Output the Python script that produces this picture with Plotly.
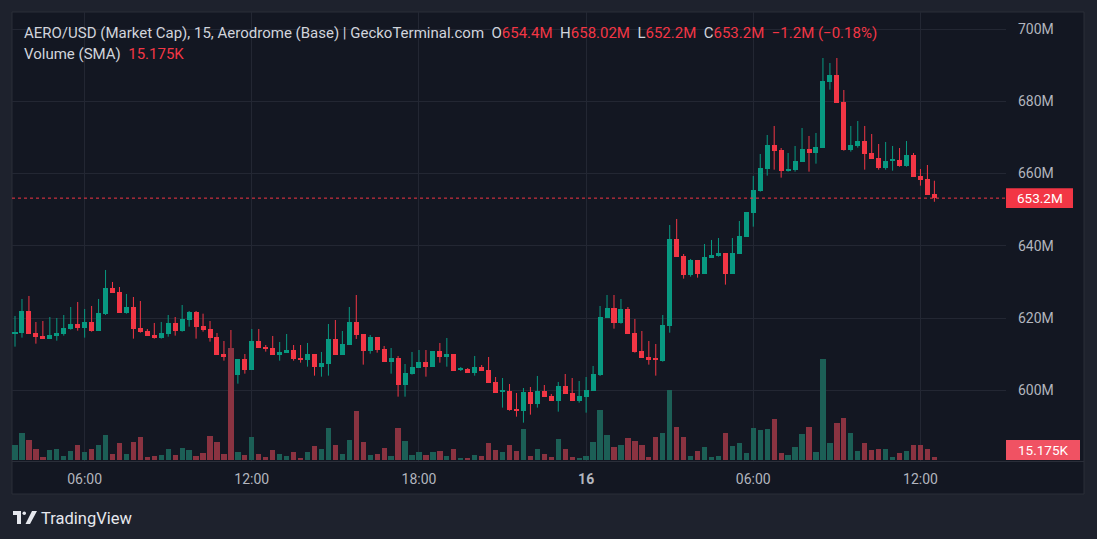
import plotly.graph_objects as go
import pandas as pd

# ---------------- data ----------------
start_time = "2024-05-15 03:30"
n_candles = 133

open_ = [
    615.76, 615.94, 621.94, 615.85, 615.02, 614.28, 615.11, 615.66, 617.05, 618.34,
    617.33, 618.90, 616.49, 621.11, 628.31, 627.21, 621.48, 623.05, 617.23, 616.49,
    615.29, 614.56, 615.66, 618.62, 616.49, 619.54, 621.67, 617.79, 616.96, 614.74,
    610.03, 609.48, 604.31, 608.65, 605.69, 613.63, 612.06, 611.69, 609.85, 610.40,
    611.14, 609.02, 608.46, 610.03, 606.52, 607.35, 614.19, 609.85, 612.62, 618.90,
    615.57, 610.95, 614.74, 611.42, 607.91, 608.92, 601.54, 604.58, 606.25, 607.82,
    606.43, 610.86, 609.29, 610.03, 605.69, 605.88, 604.86, 606.43, 605.60, 602.28,
    599.69, 599.78, 594.80, 594.33, 599.51, 596.27, 599.78, 598.40, 597.10, 601.17,
    599.23, 597.10, 598.21, 599.87, 604.21, 620.10, 622.77, 618.71, 622.50, 615.85,
    610.86, 609.20, 608.64, 608.18, 617.88, 641.89, 637.18, 632.01, 636.07, 632.28,
    636.71, 637.27, 638.01, 632.28, 637.82, 642.53, 649.18, 655.27, 661.37, 667.92,
    666.54, 660.81, 661.09, 663.31, 666.82, 665.80, 667.19, 685.47, 687.31, 679.84,
    666.63, 667.74, 669.03, 665.71, 664.32, 661.65, 663.58, 663.77, 662.20, 665.15,
    659.34, 658.51, 654.40]

close = [
    616.22, 621.94, 615.66, 614.83, 614.28, 615.29, 615.85, 617.23, 618.34, 617.23,
    618.90, 616.49, 621.39, 628.31, 627.02, 621.48, 623.05, 617.05, 616.22, 615.11,
    614.56, 615.85, 618.62, 616.49, 619.73, 621.67, 617.60, 616.77, 614.56, 609.85,
    609.29, 604.31, 608.65, 605.69, 613.63, 611.79, 611.51, 609.85, 610.59, 611.14,
    608.74, 608.46, 610.03, 606.52, 607.54, 614.19, 609.85, 612.80, 618.90, 615.39,
    610.95, 614.74, 611.23, 607.91, 608.92, 601.54, 604.77, 606.43, 607.82, 606.43,
    610.86, 609.29, 610.03, 605.41, 605.88, 604.86, 606.43, 605.41, 602.09, 599.32,
    599.87, 594.61, 594.33, 599.51, 596.27, 599.78, 598.21, 597.10, 601.17, 599.04,
    597.10, 598.40, 600.06, 604.49, 620.28, 622.77, 618.71, 622.50, 615.66, 610.68,
    609.02, 608.46, 608.46, 618.06, 641.89, 636.99, 632.01, 636.07, 632.28, 636.90,
    637.45, 638.01, 632.28, 638.01, 642.72, 649.36, 655.46, 661.55, 667.92, 666.35,
    660.81, 661.37, 663.49, 666.82, 665.80, 667.37, 685.65, 687.31, 679.65, 666.63,
    667.92, 669.03, 665.52, 664.14, 661.65, 663.49, 663.77, 662.20, 665.15, 659.15,
    658.32, 654.17, 653.20]

high = [
    620.56, 625.27, 626.10, 618.90, 619.17, 620.28, 620.00, 620.83, 623.05, 624.44,
    622.50, 623.33, 625.27, 633.30, 629.98, 628.59, 626.65, 625.82, 624.71, 616.96,
    618.62, 618.90, 620.83, 620.28, 623.60, 621.94, 621.94, 621.20, 619.17, 615.85,
    613.63, 616.68, 608.65, 610.03, 616.96, 616.96, 612.52, 615.02, 613.36, 615.57,
    612.52, 612.52, 613.08, 610.03, 610.59, 618.34, 619.45, 616.40, 623.05, 626.37,
    615.57, 615.29, 614.74, 612.25, 611.69, 609.48, 607.26, 610.59, 611.14, 611.14,
    610.86, 613.08, 614.46, 610.03, 606.43, 606.15, 609.48, 606.98, 609.20, 603.66,
    603.38, 601.72, 599.23, 600.61, 600.89, 603.94, 601.44, 598.95, 602.28, 604.49,
    603.38, 602.55, 603.66, 606.71, 623.33, 626.37, 626.37, 625.27, 623.05, 619.73,
    616.40, 613.63, 612.80, 620.83, 645.76, 647.43, 637.73, 636.35, 636.07, 640.50,
    641.61, 642.16, 638.01, 642.16, 646.87, 649.36, 659.34, 665.43, 670.69, 673.19,
    667.09, 665.71, 667.65, 672.63, 670.42, 671.25, 692.02, 690.64, 692.02, 683.16,
    673.19, 674.57, 673.19, 670.97, 668.20, 668.76, 667.65, 667.09, 669.03, 665.71,
    661.28, 662.38, 658.02]

low = [
    612.06, 614.56, 615.66, 612.89, 614.28, 614.28, 613.72, 615.11, 616.77, 616.49,
    614.56, 616.22, 616.49, 620.83, 627.02, 621.48, 621.20, 614.28, 615.94, 615.11,
    614.28, 614.28, 614.83, 615.11, 616.22, 617.60, 614.28, 616.22, 613.45, 609.85,
    608.18, 602.09, 601.81, 604.58, 605.69, 611.79, 610.68, 609.85, 608.18, 610.40,
    608.18, 607.63, 606.52, 604.03, 603.75, 604.03, 609.85, 609.85, 612.62, 614.19,
    607.08, 610.12, 610.40, 607.91, 604.58, 598.21, 598.21, 604.31, 606.25, 603.75,
    606.43, 607.63, 606.52, 605.41, 605.32, 604.86, 604.03, 605.41, 602.09, 599.32,
    595.17, 594.33, 592.67, 591.01, 593.23, 595.17, 598.21, 597.10, 594.06, 599.04,
    597.10, 596.55, 593.78, 599.87, 603.94, 620.10, 617.05, 618.43, 615.66, 610.40,
    609.02, 607.08, 604.03, 607.91, 615.94, 636.99, 630.90, 631.45, 631.17, 632.28,
    636.71, 636.99, 629.24, 632.28, 637.82, 642.53, 645.30, 655.00, 659.43, 661.09,
    658.88, 660.54, 660.54, 663.31, 660.54, 662.75, 667.19, 683.25, 679.65, 666.35,
    666.08, 667.19, 661.09, 664.14, 661.09, 661.09, 660.81, 661.92, 661.92, 659.15,
    656.66, 654.17, 652.20]

# volume in thousands
volume = [
    75, 135, 100, 55, 15, 50, 55, 20, 45, 75, 40, 55, 75, 125, 30, 85, 30, 90, 115, 15,
    20, 25, 55, 25, 60, 50, 20, 35, 120, 90, 30, 560, 40, 25, 115, 30, 15, 50, 30, 20,
    40, 10, 40, 70, 55, 160, 75,
    30, 100, 245, 90, 25, 30, 60, 20, 160, 95, 25, 40, 25, 40, 45, 20, 55, 10, 10, 25,
    20, 85, 50, 40, 75, 45, 155, 20, 55, 30, 15, 105, 55, 15, 10, 20, 90, 250, 125, 65,
    75, 110, 95, 75, 15,
    115, 135, 350, 165, 115, 20, 45, 65, 15, 20, 135, 70, 85, 35, 160, 150, 155, 205, 35,
    25, 65, 130, 165, 40, 505, 85, 185, 210, 135, 45, 85, 50, 55, 55, 15, 35, 45, 75, 75,
    55, 15.175]

tick_times = ["2024-05-15 06:00", "2024-05-15 12:00", "2024-05-15 18:00",
              "2024-05-16 00:00", "2024-05-16 06:00", "2024-05-16 12:00"]
tick_labels = ["06:00", "12:00", "18:00", "<b>16</b>", "06:00", "12:00"]
price_ticks = [600, 620, 640, 660, 680, 700]
price_labels = ["600M", "620M", "640M", "660M", "680M", "700M"]

header_ohlc = {"O": "654.4M", "H": "658.02M", "L": "652.2M", "C": "653.2M"}
header_change = "−1.2M (−0.18%)"
volume_label = "15.175K"
last_price_label = "653.2M"

# ---------------- styling ----------------
W, H = 1097, 539
PL, PR, PT, PB = 12, 1006, 12, 461   # plot area in pixels
UP, DN = "#089981", "#f23645"
VUP, VDN = "#1c5f56", "#8a3341"
BG_OUT = "#1e222d"
BG = "#131722"
GRID = "#232733"
TXT = "#b2b5be"
FONT = "Roboto, Liberation Sans, sans-serif"


def fx(px):
    return (px - PL) / (PR - PL)


def fy(py):
    return (PB - py) / (PB - PT)


times = pd.date_range(start_time, periods=n_candles, freq="15min")
step = pd.Timedelta("15min")
ms = step.total_seconds() * 1000
px_per_candle = 6.965
x_lo = times[0] - step * (3 / px_per_candle)
x_hi = times[0] + step * ((PR - 15) / px_per_candle)

is_up = [c >= o for o, c in zip(open_, close)]
min_body = 0.3
body_base = [min(o, c) for o, c in zip(open_, close)]
body_h = [max(abs(c - o), min_body) for o, c in zip(open_, close)]

fig = go.Figure()

# volume
fig.add_trace(go.Bar(
    x=times, y=volume, yaxis="y2",
    marker=dict(color=[VUP if u else VDN for u in is_up], line=dict(width=0)),
    width=ms * 0.76, hoverinfo="skip", showlegend=False))

# wicks
for flag, col in ((True, UP), (False, DN)):
    wx, wy = [], []
    for t, h, l, u in zip(times, high, low, is_up):
        if u == flag:
            wx += [t, t, None]
            wy += [l, h, None]
    fig.add_trace(go.Scatter(x=wx, y=wy, mode="lines",
                             line=dict(color=col, width=1),
                             hoverinfo="skip", showlegend=False))

# bodies
fig.add_trace(go.Bar(
    x=times, y=body_h, base=body_base,
    marker=dict(color=[UP if u else DN for u in is_up], line=dict(width=0)),
    width=ms * 0.72, showlegend=False, hoverinfo="skip"))

shapes = []
# chart pane
shapes.append(dict(type="rect", xref="paper", yref="paper", layer="below",
                   x0=fx(12), x1=fx(1084), y0=fy(494), y1=fy(12),
                   fillcolor=BG, line=dict(color="#2a2e39", width=1)))
# time-axis separator
shapes.append(dict(type="line", xref="paper", yref="paper",
                   x0=fx(12), x1=fx(1084), y0=fy(461.5), y1=fy(461.5),
                   line=dict(color="#2a2e39", width=1)))
# last price dotted line
shapes.append(dict(type="line", xref="paper", yref="y",
                   x0=0, x1=1, y0=close[-1], y1=close[-1],
                   line=dict(color=DN, width=1, dash="dot")))
# last price label box
half = 9.8 / 3.61
shapes.append(dict(type="rect", xref="paper", yref="y",
                   x0=fx(1006), x1=fx(1073), y0=close[-1] - half, y1=close[-1] + half,
                   fillcolor=DN, line=dict(width=0)))
# volume label box
shapes.append(dict(type="rect", xref="paper", yref="paper",
                   x0=fx(1006), x1=fx(1080), y0=fy(460), y1=fy(440),
                   fillcolor="#f05263", line=dict(width=0)))

# TradingView logo (approximation)
logo_col = "#e6e8ee"
shapes.append(dict(type="rect", xref="paper", yref="paper", x0=fx(13), x1=fx(21),
                   y0=fy(515), y1=fy(511), fillcolor=logo_col, line=dict(width=0)))
shapes.append(dict(type="rect", xref="paper", yref="paper", x0=fx(17), x1=fx(21),
                   y0=fy(524), y1=fy(511), fillcolor=logo_col, line=dict(width=0)))
shapes.append(dict(type="circle", xref="paper", yref="paper", x0=fx(22.5), x1=fx(26),
                   y0=fy(515), y1=fy(511.5), fillcolor=logo_col, line=dict(width=0)))
shapes.append(dict(type="path", xref="paper", yref="paper",
                   path=f"M {fx(32)} {fy(511)} L {fx(37)} {fy(511)} L {fx(30)} {fy(524)} L {fx(25.5)} {fy(524)} Z",
                   fillcolor=logo_col, line=dict(width=0)))

red = lambda s: f"<span style='color:{DN}'>{s}</span>"
sp = "\u00a0"
header = ("AERO/USD (Market Cap), 15, Aerodrome (Base) | GeckoTerminal.com" + sp * 2 +
          (sp * 2).join(k + red(v) for k, v in header_ohlc.items()) + sp * 2 + red(header_change))

annotations = [
    dict(xref="paper", yref="paper", x=fx(22), y=fy(33), xanchor="left", yanchor="middle",
         text=header, showarrow=False, font=dict(family=FONT, size=15, color="#d1d4dc")),
    dict(xref="paper", yref="paper", x=fx(22), y=fy(54), xanchor="left", yanchor="middle",
         text="Volume (SMA)" + sp * 2 + red(volume_label), showarrow=False,
         font=dict(family=FONT, size=15, color="#d1d4dc")),
    dict(xref="paper", yref="y", x=fx(1039.5), y=close[-1], xanchor="center", yanchor="middle",
         text=last_price_label, showarrow=False, font=dict(family=FONT, size=13.5, color="white")),
    dict(xref="paper", yref="paper", x=fx(1043), y=fy(450), xanchor="center", yanchor="middle",
         text=volume_label, showarrow=False, font=dict(family=FONT, size=13.5, color="white")),
    dict(xref="paper", yref="paper", x=fx(39), y=fy(518), xanchor="left", yanchor="middle",
         text="TradingView", showarrow=False, font=dict(family=FONT, size=16.5, color="#e6e8ee")),
]

fig.update_layout(
    width=W, height=H,
    margin=dict(l=PL, r=W - PR, t=PT, b=H - PB, pad=0),
    paper_bgcolor=BG_OUT, plot_bgcolor=BG,
    barmode="overlay", bargap=0,
    showlegend=False,
    shapes=shapes, annotations=annotations,
    xaxis=dict(type="date", range=[x_lo, x_hi], tickvals=tick_times, ticktext=tick_labels,
               showgrid=True, gridcolor=GRID, gridwidth=1, zeroline=False, showline=False,
               ticks="", ticklabelstandoff=8,
               tickfont=dict(family=FONT, size=14, color=TXT), fixedrange=True,
               rangeslider=dict(visible=False)),
    yaxis=dict(range=[580.39, 704.76], side="right", tickvals=price_ticks, ticktext=price_labels,
               showgrid=True, gridcolor=GRID, gridwidth=1, zeroline=False, showline=False,
               ticks="", ticklabelstandoff=11,
               tickfont=dict(family=FONT, size=14, color=TXT)),
    yaxis2=dict(range=[-5, 2240], overlaying="y", side="right", showgrid=False,
                showticklabels=False, zeroline=False, showline=False),
)

fig.write_html("out.html",
               config={"displayModeBar": False},
               post_script="document.body.style.margin='0';document.body.style.padding='0';"
                           "document.body.style.overflow='hidden';"
                           "document.body.style.background='" + BG_OUT + "';")
